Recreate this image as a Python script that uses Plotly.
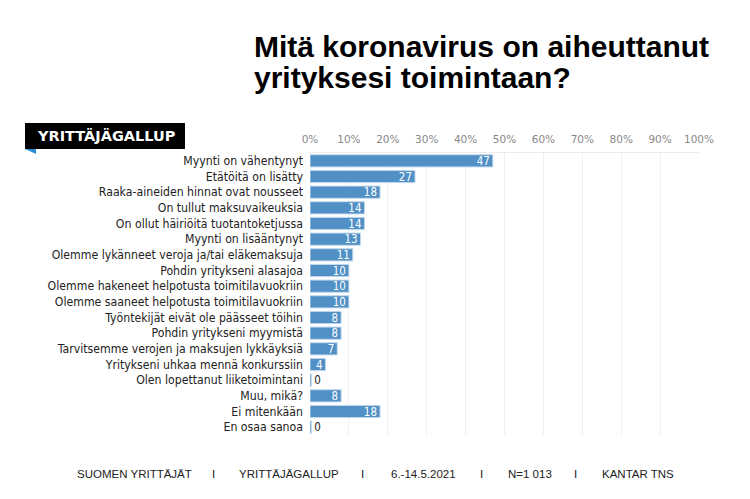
import plotly.graph_objects as go

categories = ["Myynti on vähentynyt", "Etätöitä on lisätty", "Raaka-aineiden hinnat ovat nousseet",
              "On tullut maksuvaikeuksia", "On ollut häiriöitä tuotantoketjussa", "Myynti on lisääntynyt",
              "Olemme lykänneet veroja ja/tai eläkemaksuja", "Pohdin yritykseni alasajoa",
              "Olemme hakeneet helpotusta toimitilavuokriin", "Olemme saaneet helpotusta toimitilavuokriin",
              "Työntekijät eivät ole päässeet töihin", "Pohdin yritykseni myymistä",
              "Tarvitsemme verojen ja maksujen lykkäyksiä", "Yritykseni uhkaa mennä konkurssiin",
              "Olen lopettanut liiketoimintani", "Muu, mikä?", "Ei mitenkään", "En osaa sanoa"]
values = [47, 27, 18, 14, 14, 13, 11, 10, 10, 10, 8, 8, 7, 4, 0, 8, 18, 0]
tick_vals = list(range(0, 101, 10))
tick_text = [f"{v}%" for v in tick_vals]
title_lines = ["Mitä koronavirus on aiheuttanut", "yrityksesi toimintaan?"]
footer = ["SUOMEN YRITTÄJÄT", "I", "YRITTÄJÄGALLUP", "I", "6.-14.5.2021", "I", "N=1 013", "I", "KANTAR TNS"]
footer_x = [134, 213, 289, 362, 423, 481, 530, 575, 638]

# page has an 8px body margin, positions below are measured on the page
OFF = 8
W, H = 750, 499
L, T = 310 - OFF, 153 - OFF
pw, ph = 389, 282
R, B = W - L - pw, H - T - ph


def px_x(x):
    return (x - OFF - L) / pw


def px_y(y):
    return (H - B - (y - OFF)) / ph


# zero-value bars still show as a thin line
shown = [max(v, 0.35) for v in values]
text_pos = ["inside" if v > 0 else "outside" for v in values]

fig = go.Figure(go.Bar(
    y=categories, x=shown, orientation="h",
    marker=dict(color="#5090c5", line=dict(color="#c3d9ee", width=1)),
    text=[str(v) for v in values], textposition=text_pos, insidetextanchor="end",
    textangle=0, constraintext="none",
    insidetextfont=dict(color="white", size=11.5, family="DejaVu Sans Condensed"),
    outsidetextfont=dict(color="#222", size=11.5, family="DejaVu Sans Condensed"),
    cliponaxis=False, hoverinfo="skip",
))

fig.update_layout(
    width=W, height=H, margin=dict(l=L, r=R, t=T, b=B),
    plot_bgcolor="white", paper_bgcolor="white", showlegend=False,
    bargap=0.22,
    xaxis=dict(range=[0, 100], side="top", tickvals=tick_vals, ticktext=tick_text,
               showgrid=True, gridcolor="#f0f0f0", zeroline=False,
               showline=True, linecolor="#ececec", linewidth=1,
               tickfont=dict(family="DejaVu Sans", size=10.5, color="#888"),
               ticks="", ticklabelstandoff=5, fixedrange=True),
    yaxis=dict(autorange="reversed", ticks="", ticklabelstandoff=6,
               tickfont=dict(family="DejaVu Sans Condensed", size=12.2, color="#222"),
               showline=False, fixedrange=True),
)

# title, one annotation per line
for line, mid in zip(title_lines, [46, 77]):
    fig.add_annotation(text=f"<b>{line}</b>", xref="paper", yref="paper",
                       x=px_x(252), y=px_y(mid), xanchor="left", yanchor="middle",
                       showarrow=False,
                       font=dict(family="Liberation Sans", size=30, color="black"))

# logo
fig.add_shape(type="rect", xref="paper", yref="paper",
              x0=px_x(25), x1=px_x(185), y0=px_y(149), y1=px_y(123),
              fillcolor="black", line_width=0)
fig.add_shape(type="path", xref="paper", yref="paper",
              path=f"M {px_x(25)},{px_y(149)} L {px_x(36)},{px_y(149)} L {px_x(36)},{px_y(154)} Z",
              fillcolor="#2a8fd6", line_width=0)
fig.add_annotation(text="<b>YRITTÄJÄGALLUP</b>", xref="paper", yref="paper",
                   x=px_x(106), y=px_y(136), xanchor="center", yanchor="middle",
                   showarrow=False,
                   font=dict(family="DejaVu Sans", size=14.5, color="white"))

for label, fx in zip(footer, footer_x):
    fig.add_annotation(text=label, xref="paper", yref="paper",
                       x=px_x(fx), y=px_y(474), xanchor="center", yanchor="middle",
                       showarrow=False,
                       font=dict(family="Liberation Sans Narrow, Liberation Sans", size=11.5, color="#222"))

fig.write_html("out.html")
